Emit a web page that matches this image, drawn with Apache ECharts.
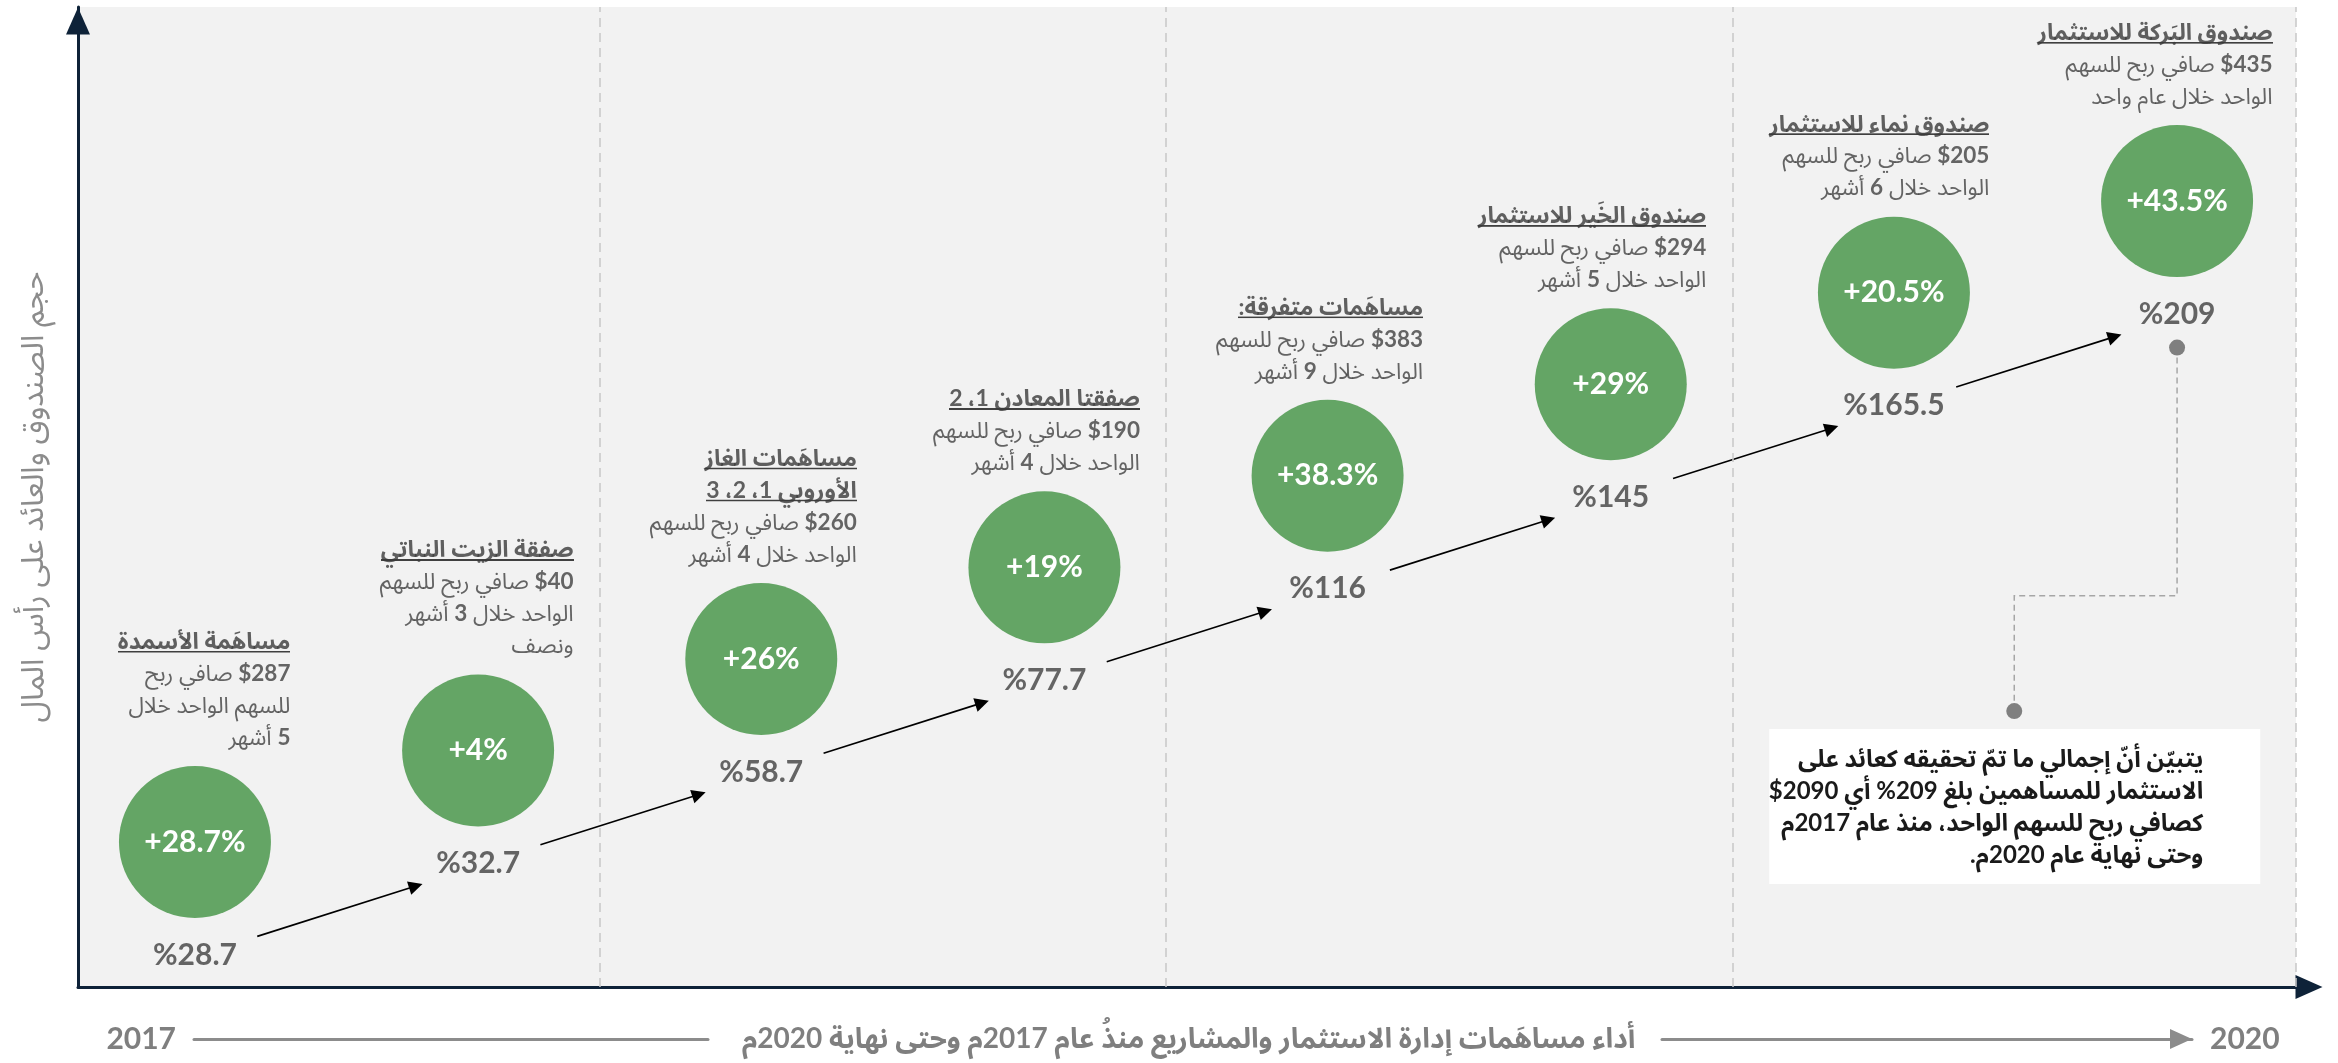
<!DOCTYPE html>
<html>
<head>
<meta charset="utf-8">
<script src="https://cdn.jsdelivr.net/npm/echarts@6/dist/echarts.min.js"></script>
<style>
    html, body { margin: 0; padding: 0; background: #fff; }
    #chart { width: 2338px; height: 1063px; }
</style>
</head>
<body>
<div id="chart"></div>
<script>
// deals in time order, 2017 -> 2020 (one step up per deal)
var dealTitles = [
    ['مساهَمة الأسمدة'],
    ['صفقة الزيت النباتي'],
    ['مساهَمات الغاز', 'الأوروبي 1، 2، 3'],
    ['صفقتا المعادن 1، 2'],
    ['مساهَمات متفرقة:'],
    ['صندوق الخَير للاستثمار'],
    ['صندوق نماء للاستثمار'],
    ['صندوق البَركة للاستثمار']
];
// profit notes, logical order, *..* marks the bold run
var dealNotes = [
    ['*$287* صافي ربح', 'للسهم الواحد خلال', '*5* أشهر'],
    ['*$40* صافي ربح للسهم', 'الواحد خلال *3* أشهر', 'ونصف'],
    ['*$260* صافي ربح للسهم', 'الواحد خلال *4* أشهر'],
    ['*$190* صافي ربح للسهم', 'الواحد خلال *4* أشهر'],
    ['*$383* صافي ربح للسهم', 'الواحد خلال *9* أشهر'],
    ['*$294* صافي ربح للسهم', 'الواحد خلال *5* أشهر'],
    ['*$205* صافي ربح للسهم', 'الواحد خلال *6* أشهر'],
    ['*$435* صافي ربح للسهم', 'الواحد خلال عام واحد']
];
var dealGain = [28.7, 4, 26, 19, 38.3, 29, 20.5, 43.5];
var cumulative = [28.7, 32.7, 58.7, 77.7, 116, 145, 165.5, 209];
var yearEndsAfter = [1, 3, 5];          // index of the last deal of 2017, 2018, 2019
var yearLabels = ['2017', '2020'];
var yTitle = 'حجم الصندوق والعائد على رأس المال';
var xTitle = 'أداء مساهَمات إدارة الاستثمار والمشاريع منذُ عام 2017م وحتى نهاية 2020م';
var summary = [
    'يتبيّن أنّ إجمالي ما تمّ تحقيقه كعائد على',
    'الاستثمار للمساهمين بلغ 209% أي 2090$',
    'كصافي ربح للسهم الواحد، منذ عام 2017م',
    'وحتى نهاية عام 2020م.'
];

var FONT = 'Lato, "Noto Sans Arabic", "DejaVu Sans", sans-serif';
var NAVY = '#0e2238';
var GREEN = '#64a565';
var INK = '#404040';
var GREY = '#7f7f7f';

function rtl(s) {
    return '\u202B' + s + '\u202C';
}

// rich text runs are placed left to right, so reverse the logical runs
function noteLine(line) {
    var runs = [];
    line.split('*').forEach(function (p, k) {
        p = p.trim();
        if (p) runs.push((k % 2 ? '{b|' : '{n|') + rtl(p) + '}');
    });
    return runs.reverse().join('{n| }');
}

function annotation(i) {
    var lines = dealTitles[i].map(function (t) { return '{t|' + rtl(t) + '}'; });
    return lines.concat(dealNotes[i].map(noteLine)).join('\n');
}

// underline drawn as a stretched background image under title runs
var underline = document.createElement('canvas');
underline.width = 4;
underline.height = 40;
var uc = underline.getContext('2d');
uc.fillStyle = INK;
uc.fillRect(0, 36, 4, 3);

var points = dealGain.map(function (g, i) { return [i, i]; });

var arrows = [];
for (var i = 0; i < points.length - 1; i++) {
    arrows.push({ coords: [[i + 0.22, i - 1.03], [i + 0.78, i - 0.48]] });
}

var last = points.length - 1;
var callout = { dot: [last, last - 1.6], elbowY: 2.69, box: [6.425, 1.43] };

// the timeline under the chart: two grey segments either side of the title
function timelineAxis(gridIndex, labelIndex, withArrow) {
    return {
        gridIndex: gridIndex, type: 'value', min: 0, max: 1, interval: 1,
        axisLine: {
            onZero: false,
            lineStyle: { color: '#8c8c8c', width: 3 },
            symbol: ['none', withArrow ? 'triangle' : 'none'], symbolSize: [20, 22], symbolOffset: [0, -11]
        },
        axisTick: { show: false }, splitLine: { show: false },
        axisLabel: {
            show: true, margin: 0, verticalAlign: 'middle',
            showMinLabel: true, showMaxLabel: true,
            alignMinLabel: 'right', alignMaxLabel: 'left',
            padding: [0, 18, 0, 18],
            color: GREY, fontSize: 30, fontWeight: 'bold', fontFamily: FONT,
            formatter: function (v) { return v === labelIndex ? yearLabels[labelIndex] : ''; }
        }
    };
}

var leftTimeline = timelineAxis(1, 0, false);
leftTimeline.name = rtl(xTitle);
leftTimeline.nameLocation = 'end';
leftTimeline.nameGap = 34;
leftTimeline.nameMoveOverlap = false;
leftTimeline.nameTextStyle = {
    color: GREY, fontSize: 28, fontWeight: 'bold', fontFamily: FONT,
    align: 'left', verticalAlign: 'middle'
};

var chart = echarts.init(document.getElementById('chart'));

var option = {
    animation: false,
    textStyle: { fontFamily: FONT },
    grid: [
        { left: 78, right: 42, top: 7, bottom: 76, show: true, backgroundColor: '#f2f2f2', borderWidth: 0, containLabel: false, outerBoundsMode: 'none' },
        { left: 194, width: 514, top: 1037, height: 2, containLabel: false, outerBoundsMode: 'none' },
        { left: 1662, right: 146, top: 1037, height: 2, containLabel: false, outerBoundsMode: 'none' }
    ],
    xAxis: [
        {
            type: 'value', min: -0.413, max: 7.42,
            axisLine: {
                onZero: false,
                lineStyle: { color: NAVY, width: 3 },
                symbol: ['none', 'triangle'], symbolSize: [24, 27], symbolOffset: [0, 13]
            },
            axisTick: { show: false }, axisLabel: { show: false }, splitLine: { show: false }
        },
        leftTimeline,
        timelineAxis(2, 1, true)
    ],
    yAxis: [
        {
            type: 'value', min: -1.583, max: 9.12,
            axisLine: {
                show: true, onZero: false,
                lineStyle: { color: NAVY, width: 3 },
                symbol: ['none', 'triangle'], symbolSize: [24, 27], symbolOffset: [0, -14]
            },
            axisTick: { show: false }, axisLabel: { show: false }, splitLine: { show: false },
            name: rtl(yTitle), nameLocation: 'middle', nameRotate: 90, nameGap: 30, nameMoveOverlap: false,
            nameTextStyle: { color: '#8c8c8c', fontSize: 31, fontFamily: FONT }
        },
        { gridIndex: 1, type: 'value', show: false },
        { gridIndex: 2, type: 'value', show: false }
    ],
    series: [
        {
            name: 'gain', type: 'scatter', silent: true,
            data: points, symbolSize: 152,
            itemStyle: { color: GREEN, opacity: 1 },
            label: {
                show: true, position: 'inside', color: '#fff',
                fontSize: 30, fontWeight: 'bold', fontFamily: FONT,
                formatter: function (p) { return '+' + dealGain[p.dataIndex] + '%'; }
            },
            markLine: {
                silent: true, symbol: 'none', label: { show: false },
                lineStyle: { type: [9, 6], color: '#c8c8c8', width: 1.5 },
                data: yearEndsAfter.map(function (k) { return { xAxis: k + 0.43 }; }).concat([{ xAxis: 7.42 }])
            },
            z: 3
        },
        {
            name: 'cumulative', type: 'scatter', silent: true,
            data: points, symbolSize: 1,
            itemStyle: { color: 'transparent' },
            label: {
                show: true, position: 'inside', offset: [0, 113],
                color: INK, fontSize: 30, fontWeight: 'bold', fontFamily: FONT,
                formatter: function (p) { return '%' + cumulative[p.dataIndex]; }
            }
        },
        {
            name: 'notes', type: 'scatter', silent: true,
            data: points, symbolSize: 1,
            itemStyle: { color: 'transparent' },
            label: {
                show: true, position: [96, -88], align: 'right', verticalAlign: 'bottom',
                formatter: function (p) { return annotation(p.dataIndex); },
                rich: {
                    t: { fontFamily: FONT, fontSize: 23, fontWeight: 'bold', color: '#3a3a3a', lineHeight: 32,
                         backgroundColor: { image: underline } },
                    n: { fontFamily: FONT, fontSize: 22.5, color: INK, lineHeight: 32 },
                    b: { fontFamily: FONT, fontSize: 22.5, fontWeight: 'bold', color: INK, lineHeight: 32 }
                }
            }
        },
        {
            name: 'arrows', type: 'lines', coordinateSystem: 'cartesian2d', silent: true,
            symbol: ['none', 'triangle'], symbolSize: 14,
            lineStyle: { color: '#000', width: 1.6, opacity: 1, curveness: 0 },
            data: arrows
        },
        {
            name: 'connector', type: 'lines', coordinateSystem: 'cartesian2d', polyline: true, silent: true,
            lineStyle: { color: '#a6a6a6', width: 1.5, type: [6, 4], opacity: 1 },
            data: [{ coords: [callout.dot, [callout.dot[0], callout.elbowY], [callout.box[0], callout.elbowY], callout.box] }]
        },
        {
            name: 'callout', type: 'scatter', silent: true,
            symbolSize: 16, itemStyle: { color: '#7f7f7f', opacity: 1 },
            data: [
                callout.dot,
                {
                    value: callout.box,
                    label: {
                        show: true, position: [254, 26], align: 'right', verticalAlign: 'top',
                        width: 411, padding: [14, 57, 13, 23], backgroundColor: '#fff',
                        color: '#1a1a1a', fontSize: 24, fontWeight: 'bold', lineHeight: 32, fontFamily: FONT,
                        formatter: function () { return summary.map(rtl).join('\n'); }
                    }
                }
            ],
            z: 4
        }
    ]
};

chart.setOption(option);
</script>
</body>
</html>
